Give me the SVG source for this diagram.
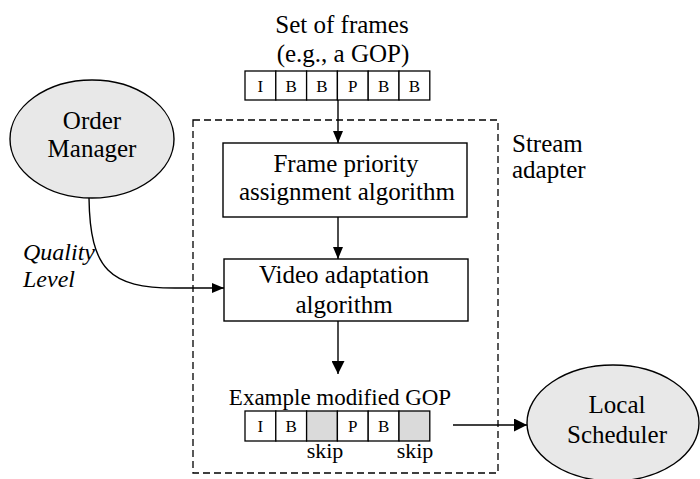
<svg xmlns="http://www.w3.org/2000/svg" width="700" height="479" viewBox="0 0 700 479">
  <style>
    text { font-family: "Liberation Serif", "Times New Roman", serif; fill: #000; text-anchor: middle; }
    .lbl { font-size: 25px; }
    .frm { font-size: 17px; }
    .small { font-size: 22px; }
    .ital { font-size: 24px; font-style: italic; text-anchor: start; }
    .box { fill: #fff; stroke: #000; stroke-width: 1.4; }
    .cell { fill: #fff; stroke: #000; stroke-width: 1.3; }
    .gray { fill: #dadada; stroke: #000; stroke-width: 1.3; }
    .ell { fill: #e8e8e8; stroke: #000; stroke-width: 1.4; }
    .edge { fill: none; stroke: #000; stroke-width: 1.4; }
    .dash { fill: none; stroke: #000; stroke-width: 1.3; stroke-dasharray: 7 4; }
  </style>
  <defs>
    <marker id="arr" markerUnits="userSpaceOnUse" markerWidth="12" markerHeight="10" refX="12" refY="5" orient="auto">
      <path d="M0,0 L12,5 L0,10 Z" fill="#000"/>
    </marker>
    <marker id="arrBig" markerUnits="userSpaceOnUse" markerWidth="13" markerHeight="13" refX="13" refY="6.5" orient="auto">
      <path d="M0,0 L13,6.5 L0,13 Z" fill="#000"/>
    </marker>
  </defs>

  <!-- stream adapter boundary -->
  <g id="stream-adapter">
    <rect class="dash" x="193" y="120" width="305" height="353"/>
    <text class="lbl" x="512" y="152" style="text-anchor:start">Stream</text>
    <text class="lbl" x="512" y="178" style="text-anchor:start">adapter</text>
  </g>

  <!-- input set of frames -->
  <g id="input-gop">
    <text class="lbl" x="342" y="33">Set of frames</text>
    <text class="lbl" x="343" y="62">(e.g., a GOP)</text>
    <rect class="cell" x="245" y="71" width="30.8" height="29"/>
    <rect class="cell" x="275.8" y="71" width="30.8" height="29"/>
    <rect class="cell" x="306.6" y="71" width="30.8" height="29"/>
    <rect class="cell" x="337.4" y="71" width="30.8" height="29"/>
    <rect class="cell" x="368.2" y="71" width="30.8" height="29"/>
    <rect class="cell" x="399" y="71" width="30.8" height="29"/>
    <text class="frm" x="260.4" y="92">I</text>
    <text class="frm" x="291.2" y="92">B</text>
    <text class="frm" x="322" y="92">B</text>
    <text class="frm" x="352.8" y="92">P</text>
    <text class="frm" x="383.6" y="92">B</text>
    <text class="frm" x="414.4" y="92">B</text>
  </g>

  <g id="priority">
    <rect class="box" x="223" y="143" width="244" height="74"/>
    <text class="lbl" x="346" y="172">Frame priority</text>
    <text class="lbl" x="347" y="200">assignment algorithm</text>
  </g>

  <g id="adaptation">
    <rect class="box" x="224" y="259" width="244" height="62"/>
    <text class="lbl" x="344" y="283">Video adaptation</text>
    <text class="lbl" x="344" y="313">algorithm</text>
  </g>

  <!-- resulting GOP with skipped frames -->
  <g id="modified-gop">
    <text style="font-size:23px" x="340" y="405">Example modified GOP</text>
    <rect class="cell" x="245" y="411" width="30.8" height="30"/>
    <rect class="cell" x="275.8" y="411" width="30.8" height="30"/>
    <rect class="gray" x="306.6" y="411" width="30.8" height="30"/>
    <rect class="cell" x="337.4" y="411" width="30.8" height="30"/>
    <rect class="cell" x="368.2" y="411" width="30.8" height="30"/>
    <rect class="gray" x="399" y="411" width="30.8" height="30"/>
    <text class="frm" x="260.4" y="432">I</text>
    <text class="frm" x="291.2" y="432">B</text>
    <text class="frm" x="352.8" y="432">P</text>
    <text class="frm" x="383.6" y="432">B</text>
    <text class="small" x="325" y="458">skip</text>
    <text class="small" x="415" y="458">skip</text>
  </g>

  <g id="order-manager">
    <ellipse class="ell" cx="92" cy="139" rx="82" ry="59"/>
    <text class="lbl" x="92" y="129">Order</text>
    <text class="lbl" x="92" y="157">Manager</text>
  </g>

  <g id="local-scheduler">
    <ellipse class="ell" cx="613" cy="423" rx="86" ry="58"/>
    <text class="lbl" x="617" y="413">Local</text>
    <text class="lbl" x="617" y="443">Scheduler</text>
  </g>

  <g id="connectors">
    <line class="edge" x1="338" y1="100" x2="338" y2="143" marker-end="url(#arr)"/>
    <line class="edge" x1="338" y1="217" x2="338" y2="259" marker-end="url(#arr)"/>
    <line class="edge" x1="338" y1="321" x2="338" y2="374" marker-end="url(#arrBig)"/>
    <path class="edge" d="M89,198 C90,270 110,288 175,288 L224,288" marker-end="url(#arr)"/>
    <line class="edge" x1="453" y1="425" x2="527" y2="425" marker-end="url(#arrBig)"/>
    <text class="ital" x="23" y="260">Quality</text>
    <text class="ital" x="23" y="287">Level</text>
  </g>
</svg>
